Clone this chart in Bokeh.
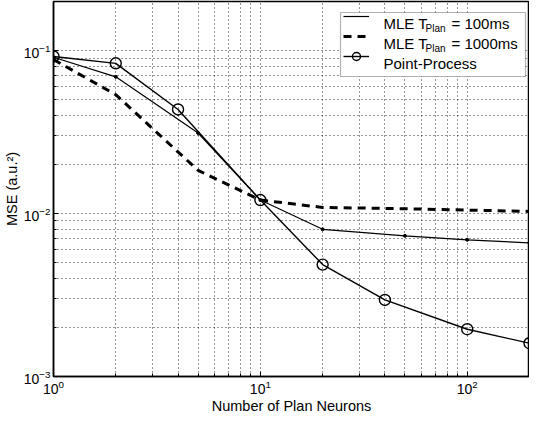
from bokeh.plotting import figure
from bokeh.models import (FixedTicker, Legend, LegendItem, Label, Range1d, BoxAnnotation)
from bokeh.embed import file_html
from bokeh.resources import INLINE

# ---- data ----
n_pp = [1, 2, 4, 10, 20, 40, 100, 200]
mse_pp = [0.092, 0.0835, 0.0435, 0.0121, 0.00486, 0.00295, 0.00195, 0.0016]

n_mle = [1, 2, 5, 10, 20, 50, 100, 200]
mse_mle100 = [0.091, 0.069, 0.0312, 0.0121, 0.0080, 0.0073, 0.0069, 0.0066]
mse_mle1000 = [0.088, 0.0536, 0.0184, 0.0121, 0.0109, 0.0107, 0.0105, 0.0103]

x_major = [1, 10, 100]
x_minor = [2, 3, 4, 5, 6, 7, 8, 9, 20, 30, 40, 50, 60, 70, 80, 90, 200]
y_major = [1e-3, 1e-2, 1e-1]
y_minor = [2e-3, 3e-3, 4e-3, 5e-3, 6e-3, 7e-3, 8e-3, 9e-3,
           2e-2, 3e-2, 4e-2, 5e-2, 6e-2, 7e-2, 8e-2, 9e-2, 2e-1]

legend_texts = [("MLE T", "Plan", "= 100ms"), ("MLE T", "Plan", "= 1000ms"), ("Point-Process", "", "")]

FONT = "Liberation Sans"

p = figure(width=529, height=416, x_axis_type="log", y_axis_type="log",
           x_range=Range1d(1, 200), y_range=Range1d(1e-3, 0.2),
           output_backend="svg", toolbar_location=None,
           min_border_left=10, min_border_right=0, min_border_top=1, min_border_bottom=0)

p.background_fill_color = "white"
p.border_fill_color = "white"
p.outline_line_color = "black"
p.outline_line_width = 1.5

for ax, maj, mnr in ((p.xaxis[0], x_major, x_minor), (p.yaxis[0], y_major, y_minor)):
    ax.ticker = FixedTicker(ticks=maj, minor_ticks=mnr)
    ax.major_tick_in = 5
    ax.major_tick_out = 0
    ax.minor_tick_in = 3
    ax.minor_tick_out = 0
    ax.axis_line_color = "black"
    ax.axis_line_width = 1.5
    ax.major_label_text_font = FONT
    ax.major_label_text_font_size = "14px"
    ax.major_label_text_color = "black"
    ax.axis_label_text_font = FONT
    ax.axis_label_text_font_size = "14.5px"
    ax.axis_label_text_font_style = "normal"
    ax.axis_label_text_color = "black"
    ax.major_label_standoff = 3
    ax.axis_label_standoff = 1

p.xaxis.axis_label = "Number of Plan Neurons"
p.yaxis.axis_label = "MSE (a.u.²)"

for g in (p.xgrid[0], p.ygrid[0]):
    g.grid_line_color = "black"
    g.grid_line_dash = "1 3"
    g.grid_line_width = 1
    g.grid_line_alpha = 0.85
    g.minor_grid_line_color = "black"
    g.minor_grid_line_dash = "1 3"
    g.minor_grid_line_width = 1
    g.minor_grid_line_alpha = 0.85

r1 = p.line(n_mle, mse_mle100, line_color="black", line_width=1.2)
r1m = p.scatter(n_mle, mse_mle100, size=3, color="black")
r2 = p.line(n_mle, mse_mle1000, line_color="black", line_width=3, line_dash="8 6")
r3 = p.line(n_pp, mse_pp, line_color="black", line_width=1.4)
r3m = p.scatter(n_pp, mse_pp, size=11, fill_color=None, line_color="black", line_width=1.4)

# legend geometry (frame-relative screen px)
frame_w, frame_h = 477, 369
leg_margin, leg_pad, glyph_w, standoff, lab_w, row_h = 5, 2, 26, 15, 140, 20
leg_w = 2 * leg_pad + glyph_w + standoff + lab_w
leg_h = 2 * leg_pad + 3 * row_h
leg_right = frame_w - leg_margin
leg_left = leg_right - leg_w
leg_top = frame_h - leg_margin
leg_bottom = leg_top - leg_h

p.add_layout(BoxAnnotation(left=leg_left, right=leg_right, top=leg_top, bottom=leg_bottom,
                           left_units="screen", right_units="screen",
                           top_units="screen", bottom_units="screen",
                           fill_color="white", fill_alpha=1, line_color="black",
                           line_width=1.2, level="annotation"))

legend = Legend(items=[LegendItem(label=" ", renderers=[r1]),
                       LegendItem(label=" ", renderers=[r2]),
                       LegendItem(label=" ", renderers=[r3, r3m])],
                location="top_right", padding=leg_pad, spacing=0, margin=leg_margin,
                glyph_width=glyph_w, glyph_height=row_h, label_height=row_h,
                label_width=lab_w, label_standoff=standoff,
                border_line_color=None, background_fill_alpha=0,
                label_text_font_size="1px")
p.add_layout(legend, "center")

text_x = leg_left + leg_pad + glyph_w + standoff
for i, (main, sub, rest) in enumerate(legend_texts):
    yc = leg_top - leg_pad - row_h / 2 - row_h * i + 1
    p.add_layout(Label(x=text_x, y=yc, x_units="screen", y_units="screen",
                       text=main, text_font=FONT, text_font_size="15px", level="overlay",
                       text_color="black", text_baseline="middle", text_align="left"))
    if sub:
        p.add_layout(Label(x=text_x + 42, y=yc - 5, x_units="screen", y_units="screen",
                           text=sub, text_font=FONT, text_font_size="10px", level="overlay",
                           text_color="black", text_baseline="middle", text_align="left"))
        p.add_layout(Label(x=text_x + 42 + 26, y=yc, x_units="screen", y_units="screen",
                           text=rest, text_font=FONT, text_font_size="15px", level="overlay",
                           text_color="black", text_baseline="middle", text_align="left"))

open("out.html", "w").write(file_html(p, INLINE))
